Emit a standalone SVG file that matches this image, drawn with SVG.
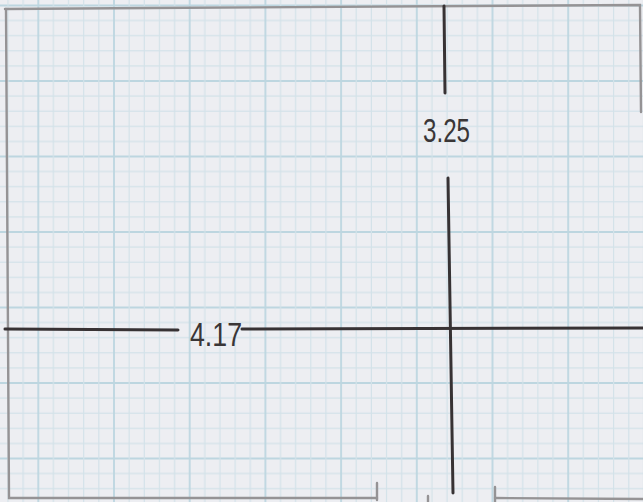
<svg xmlns="http://www.w3.org/2000/svg" width="643" height="502" viewBox="0 0 643 502">
  <style>
    .minor { stroke: #d3e2e9; stroke-width: 1.2; }
    .major { stroke: #bdd6e0; stroke-width: 1.8; }
    .pencil { stroke: #959395; stroke-width: 2.4; fill: none; stroke-linecap: round; }
    .ink { stroke: #373234; stroke-width: 3; fill: none; stroke-linecap: round; }
    .hand { font-family: "Liberation Sans", "DejaVu Sans", sans-serif; fill: #3a3637; }
  </style>
  <defs>
    <pattern id="gridV" patternUnits="userSpaceOnUse" x="38.3" y="0" width="75.7" height="502">
      <line class="major" x1="0" y1="0" x2="0" y2="502"/>
      <line class="minor" x1="15.14" y1="0" x2="15.14" y2="502"/>
      <line class="minor" x1="30.28" y1="0" x2="30.28" y2="502"/>
      <line class="minor" x1="45.42" y1="0" x2="45.42" y2="502"/>
      <line class="minor" x1="60.56" y1="0" x2="60.56" y2="502"/>
      <line class="major" x1="75.7" y1="0" x2="75.7" y2="502"/>
    </pattern>
    <pattern id="gridH" patternUnits="userSpaceOnUse" x="0" y="81" width="643" height="75.5">
      <line class="major" x1="0" y1="0" x2="643" y2="0"/>
      <line class="minor" x1="0" y1="15.1" x2="643" y2="15.1"/>
      <line class="minor" x1="0" y1="30.2" x2="643" y2="30.2"/>
      <line class="minor" x1="0" y1="45.3" x2="643" y2="45.3"/>
      <line class="minor" x1="0" y1="60.4" x2="643" y2="60.4"/>
      <line class="major" x1="0" y1="75.5" x2="643" y2="75.5"/>
    </pattern>
  </defs>
  <g id="paper">
    <rect x="0" y="0" width="643" height="502" fill="#edeef2"/>
    <rect x="0" y="0" width="643" height="502" fill="url(#gridH)"/>
    <rect x="0" y="0" width="643" height="502" fill="url(#gridV)"/>
  </g>
  <g id="border">
    <path class="pencil" d="M5,9 L150,8 L640,5 L641,112"/>
    <path class="pencil" d="M6,9 L9,498 L377,498"/>
    <path class="pencil" d="M377,483 L377,500"/>
    <path class="pencil" d="M428,496 L428,502"/>
    <path class="pencil" d="M495,487 L495,502"/>
    <path class="pencil" d="M495,498 L643,499"/>
  </g>
  <g id="connectors">
    <line class="ink" x1="444" y1="6" x2="445" y2="93"/>
    <line class="ink" x1="448" y1="178" x2="453" y2="493"/>
    <line class="ink" x1="5" y1="329" x2="178" y2="330"/>
    <line class="ink" x1="242" y1="329" x2="643" y2="328"/>
  </g>
  <g id="label-height">
    <text class="hand" x="423" y="142" font-size="33" textLength="47" lengthAdjust="spacingAndGlyphs">3.25</text>
  </g>
  <g id="label-width">
    <text class="hand" x="190" y="346" font-size="34" textLength="52" lengthAdjust="spacingAndGlyphs">4.17</text>
  </g>
</svg>
